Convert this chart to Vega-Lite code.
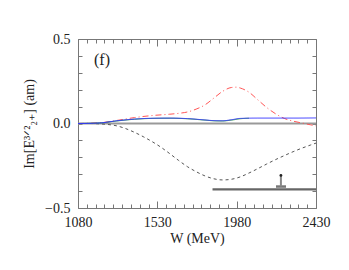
{
  "$schema": "https://vega.github.io/schema/vega-lite/v6.json",
  "width": 238,
  "height": 169,
  "autosize": "none",
  "padding": {"left": 78, "top": 39, "right": 33, "bottom": 62},
  "background": "white",
  "config": {
    "view": {"stroke": "#777", "strokeWidth": 1},
    "axis": {
      "grid": false,
      "domain": false,
      "labelFont": "Liberation Serif",
      "titleFont": "Liberation Serif",
      "labelFontSize": 14,
      "titleFontSize": 14,
      "titleFontWeight": "normal",
      "labelColor": "#222",
      "titleColor": "#222",
      "tickColor": "#777",
      "tickWidth": 1
    }
  },
  "datasets": {
    "curves": [
      {"W": 1080, "v": 0, "s": "black"}, {"W": 1150, "v": 0, "s": "black"}, {"W": 1200, "v": -0.002, "s": "black"},
      {"W": 1250, "v": -0.006, "s": "black"}, {"W": 1300, "v": -0.014, "s": "black"}, {"W": 1350, "v": -0.03, "s": "black"},
      {"W": 1400, "v": -0.052, "s": "black"}, {"W": 1450, "v": -0.078, "s": "black"}, {"W": 1500, "v": -0.107, "s": "black"},
      {"W": 1550, "v": -0.14, "s": "black"}, {"W": 1600, "v": -0.178, "s": "black"}, {"W": 1650, "v": -0.218, "s": "black"},
      {"W": 1700, "v": -0.255, "s": "black"}, {"W": 1750, "v": -0.285, "s": "black"}, {"W": 1800, "v": -0.31, "s": "black"},
      {"W": 1850, "v": -0.327, "s": "black"}, {"W": 1900, "v": -0.334, "s": "black"}, {"W": 1950, "v": -0.33, "s": "black"},
      {"W": 2000, "v": -0.316, "s": "black"}, {"W": 2050, "v": -0.293, "s": "black"}, {"W": 2100, "v": -0.267, "s": "black"},
      {"W": 2150, "v": -0.24, "s": "black"}, {"W": 2200, "v": -0.214, "s": "black"}, {"W": 2250, "v": -0.19, "s": "black"},
      {"W": 2300, "v": -0.167, "s": "black"}, {"W": 2350, "v": -0.146, "s": "black"}, {"W": 2400, "v": -0.127, "s": "black"},
      {"W": 2430, "v": -0.116, "s": "black"},
      {"W": 1080, "v": 0, "s": "red"}, {"W": 1200, "v": 0.004, "s": "red"}, {"W": 1300, "v": 0.018, "s": "red"},
      {"W": 1400, "v": 0.035, "s": "red"}, {"W": 1500, "v": 0.047, "s": "red"}, {"W": 1600, "v": 0.055, "s": "red"},
      {"W": 1650, "v": 0.06, "s": "red"}, {"W": 1700, "v": 0.068, "s": "red"}, {"W": 1750, "v": 0.085, "s": "red"},
      {"W": 1800, "v": 0.11, "s": "red"}, {"W": 1850, "v": 0.15, "s": "red"}, {"W": 1900, "v": 0.19, "s": "red"},
      {"W": 1950, "v": 0.213, "s": "red"}, {"W": 1980, "v": 0.215, "s": "red"}, {"W": 2000, "v": 0.21, "s": "red"},
      {"W": 2050, "v": 0.185, "s": "red"}, {"W": 2100, "v": 0.14, "s": "red"}, {"W": 2150, "v": 0.095, "s": "red"},
      {"W": 2200, "v": 0.058, "s": "red"}, {"W": 2250, "v": 0.03, "s": "red"}, {"W": 2300, "v": 0.014, "s": "red"},
      {"W": 2350, "v": 0.003, "s": "red"}, {"W": 2400, "v": -0.008, "s": "red"}, {"W": 2430, "v": -0.014, "s": "red"},
      {"W": 1080, "v": 0, "s": "green"}, {"W": 1200, "v": 0.003, "s": "green"}, {"W": 1300, "v": 0.015, "s": "green"},
      {"W": 1400, "v": 0.025, "s": "green"}, {"W": 1500, "v": 0.03, "s": "green"}, {"W": 1600, "v": 0.031, "s": "green"},
      {"W": 1700, "v": 0.028, "s": "green"}, {"W": 1800, "v": 0.02, "s": "green"}, {"W": 1850, "v": 0.016, "s": "green"},
      {"W": 1900, "v": 0.015, "s": "green"}, {"W": 1950, "v": 0.02, "s": "green"}, {"W": 2000, "v": 0.028, "s": "green"},
      {"W": 2050, "v": 0.031, "s": "green"},
      {"W": 1080, "v": 0, "s": "blue"}, {"W": 1200, "v": 0.003, "s": "blue"}, {"W": 1300, "v": 0.016, "s": "blue"},
      {"W": 1400, "v": 0.026, "s": "blue"}, {"W": 1500, "v": 0.031, "s": "blue"}, {"W": 1600, "v": 0.032, "s": "blue"},
      {"W": 1700, "v": 0.029, "s": "blue"}, {"W": 1800, "v": 0.021, "s": "blue"}, {"W": 1850, "v": 0.017, "s": "blue"},
      {"W": 1900, "v": 0.016, "s": "blue"}, {"W": 1950, "v": 0.022, "s": "blue"}, {"W": 2000, "v": 0.03, "s": "blue"},
      {"W": 2100, "v": 0.032, "s": "blue"}, {"W": 2200, "v": 0.032, "s": "blue"}, {"W": 2300, "v": 0.032, "s": "blue"},
      {"W": 2430, "v": 0.033, "s": "blue"}
    ],
    "segs": [
      {"x1": 1080, "x2": 2430, "y": 0, "kind": "zero"},
      {"x1": 1843, "x2": 2430, "y": -0.39, "kind": "bar"},
      {"x1": 2203, "x2": 2260, "y": -0.373, "kind": "base"}
    ],
    "marker": [{"W": 2231, "top": -0.307, "bottom": -0.373}],
    "label": [{"W": 1216, "v": 0.377, "t": "(f)"}]
  },
  "layer": [
    {
      "data": {"name": "segs"},
      "mark": {"type": "rule"},
      "encoding": {
        "x": {"field": "x1", "type": "quantitative", "scale": {"domain": [1080, 2430], "nice": false, "zero": false},
          "axis": {"orient": "top", "values": [1080,1130,1180,1230,1280,1330,1380,1430,1480,1530,1580,1630,1680,1730,1780,1830,1880,1930,1980,2030,2080,2130,2180,2230,2280,2330,2380,2430],
            "labels": false, "title": null, "tickSize": {"condition": {"test": "(datum.value - 1080) % 450 === 0", "value": -7}, "value": -4}}},
        "x2": {"field": "x2"},
        "y": {"field": "y", "type": "quantitative", "scale": {"domain": [-0.5, 0.5], "nice": false, "zero": false},
          "axis": {"orient": "right", "values": [-0.5,-0.4,-0.3,-0.2,-0.1,0,0.1,0.2,0.3,0.4,0.5], "labels": false, "title": null, "tickSize": -4}},
        "color": {"field": "kind", "type": "nominal", "scale": {"domain": ["zero", "bar", "base"], "range": ["#999999", "#666666", "#777777"]}, "legend": null},
        "strokeWidth": {"field": "kind", "type": "nominal", "scale": {"domain": ["zero", "bar", "base"], "range": [2, 2.5, 2]}, "legend": null}
      }
    },
    {
      "data": {"name": "curves"},
      "mark": {"type": "line", "strokeWidth": 1, "interpolate": "monotone"},
      "encoding": {
        "x": {"field": "W", "type": "quantitative",
          "axis": {"orient": "bottom", "values": [1080,1130,1180,1230,1280,1330,1380,1430,1480,1530,1580,1630,1680,1730,1780,1830,1880,1930,1980,2030,2080,2130,2180,2230,2280,2330,2380,2430],
            "format": "d", "labelExpr": "(datum.value - 1080) % 450 === 0 ? datum.label : ''", "labelPadding": 14,
            "tickSize": {"condition": {"test": "(datum.value - 1080) % 450 === 0", "value": -7}, "value": -4},
            "title": "W  (MeV)", "titlePadding": 2, "labelFlush": false}},
        "y": {"field": "v", "type": "quantitative",
          "axis": {"orient": "left", "values": [-0.5,-0.4,-0.3,-0.2,-0.1,0,0.1,0.2,0.3,0.4,0.5],
            "format": ".1f", "labelExpr": "abs(datum.value) < 0.01 || abs(abs(datum.value) - 0.5) < 0.01 ? datum.label : ''",
            "labelPadding": 12, "tickSize": -4, "title": "Im[E³ᐟ²₂₊]  (am)", "titlePadding": 8, "labelFlush": false}},
        "color": {"field": "s", "type": "nominal", "scale": {"domain": ["black", "red", "green", "blue"], "range": ["#555555", "#ff5555", "#33aa33", "#3333ff"]}, "legend": null},
        "strokeDash": {"field": "s", "type": "nominal", "scale": {"domain": ["black", "red", "green", "blue"], "range": [[3, 3], [6, 3, 1, 3], [1, 0], [1, 0]]}, "legend": null},
        "order": {"field": "W", "type": "quantitative"}
      }
    },
    {
      "data": {"name": "marker"},
      "mark": {"type": "rule", "color": "#888888", "strokeWidth": 2},
      "encoding": {
        "x": {"field": "W", "type": "quantitative", "axis": null},
        "y": {"field": "top", "type": "quantitative", "axis": null},
        "y2": {"field": "bottom"}
      }
    },
    {
      "data": {"name": "marker"},
      "mark": {"type": "point", "filled": true, "color": "#222222", "size": 8, "opacity": 1},
      "encoding": {
        "x": {"field": "W", "type": "quantitative", "axis": null},
        "y": {"field": "top", "type": "quantitative", "axis": null}
      }
    },
    {
      "data": {"name": "label"},
      "mark": {"type": "text", "font": "Liberation Serif", "fontSize": 16, "color": "#222"},
      "encoding": {
        "x": {"field": "W", "type": "quantitative", "axis": null},
        "y": {"field": "v", "type": "quantitative", "axis": null},
        "text": {"field": "t"}
      }
    }
  ],
  "resolve": {"axis": {"x": "independent", "y": "independent"}, "scale": {"color": "independent", "strokeWidth": "independent"}}
}
